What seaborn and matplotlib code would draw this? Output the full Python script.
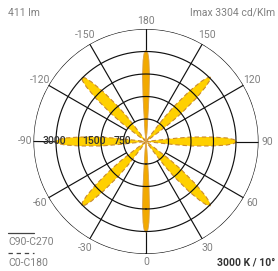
import numpy as np
import pandas as pd
import matplotlib
matplotlib.use("Agg")
import matplotlib.pyplot as plt
from matplotlib.lines import Line2D
import seaborn as sns

# ---------------- data ----------------
# C90-C270 plane (solid, orange): gamma angles (deg) and intensity (cd/klm)
c90_angles = [-180, -178.7, -177.9, -177, -176.2, -175.8, -175.2, -173.6, -171,
              -9, -6.4, -4.8, -4.2, -3.8, -3, -2.1, -1.3, 0, 1.3, 2.1, 3, 3.8, 4.2, 4.8, 6.4, 9,
              171, 173.6, 175.2, 175.8, 176.2, 177, 177.9, 178.7, 180]
c90_values = [3030, 2930, 2700, 2200, 1500, 1000, 600, 300, 0,
              0, 300, 600, 1000, 1500, 2200, 2700, 2930, 3030, 2930, 2700, 2200, 1500, 1000, 600, 300, 0,
              0, 300, 600, 1000, 1500, 2200, 2700, 2930, 3030]

# C0-C180 plane (dashed, yellow)
c0_angles = [-180,
             -145, -143.8, -143.2, -142.7, -141.4, -139.3, -137.5, -136.3, -135,
             -133.7, -132.5, -130.7, -128.6, -127.3, -126.8, -126.2, -125,
             -98, -96.6, -96.4, -96.2, -95.7, -93.9, -92.5, -91.3, -90,
             -88.7, -87.5, -86.1, -84.3, -83.8, -83.6, -83.4, -82,
             -55, -53.8, -53.2, -52.7, -51.4, -49.3, -47.5, -46.3, -45,
             -43.7, -42.5, -40.7, -38.6, -37.3, -36.8, -36.2, -35,
             0,
             35, 36.2, 36.8, 37.3, 38.6, 40.7, 42.5, 43.7, 45,
             46.3, 47.5, 49.3, 51.4, 52.7, 53.2, 53.8, 55,
             82, 83.4, 83.6, 83.8, 84.3, 86.1, 87.5, 88.7, 90,
             91.3, 92.5, 93.9, 95.7, 96.2, 96.4, 96.6, 98,
             125, 126.2, 126.8, 127.3, 128.6, 130.7, 132.5, 133.7, 135,
             136.3, 137.5, 139.3, 141.4, 142.7, 143.2, 143.8, 145,
             180]
c0_values = [0,
             0, 300, 600, 1000, 1500, 2200, 2700, 2930, 3030,
             2930, 2700, 2200, 1500, 1000, 600, 300, 0,
             0, 300, 600, 1000, 1500, 2200, 2700, 2930, 3030,
             2930, 2700, 2200, 1500, 1000, 600, 300, 0,
             0, 300, 600, 1000, 1500, 2200, 2700, 2930, 3030,
             2930, 2700, 2200, 1500, 1000, 600, 300, 0,
             0,
             0, 300, 600, 1000, 1500, 2200, 2700, 2930, 3030,
             2930, 2700, 2200, 1500, 1000, 600, 300, 0,
             0, 300, 600, 1000, 1500, 2200, 2700, 2930, 3030,
             2930, 2700, 2200, 1500, 1000, 600, 300, 0,
             0, 300, 600, 1000, 1500, 2200, 2700, 2930, 3030,
             2930, 2700, 2200, 1500, 1000, 600, 300, 0,
             0]

ring_values = [750, 1500, 2250, 3000, 3750]
radial_labels = ["3000", "1500", "750"]
radial_label_pos = [3050, 1750, 780]
angle_ticks = [0, 30, 60, 90, 120, 150, 180, -150, -120, -90, -60, -30]
angle_labels = ["0", "30", "60", "90", "120", "150", "180", "-150", "-120", "-90", "-60", "-30"]
r_max = 3750

# ---------------- plot ----------------
sns.set_theme(style="white")
plt.rcParams['font.family'] = ['Roboto', 'DejaVu Sans']

fig = plt.figure(figsize=(2.78, 2.71), dpi=100)
W, H = 278, 271
cx, cy, R = 146, 141.5, 112.5
ax = fig.add_axes([(cx - R) / W, (H - cy - R) / H, 2 * R / W, 2 * R / H], projection='polar')
ax.set_theta_zero_location('S')
ax.set_theta_direction(1)
ax.set_ylim(0, r_max)
ax.set_xticks([])
ax.set_yticks([])
ax.grid(False)
ax.spines['polar'].set_visible(False)
ax.patch.set_alpha(0)

df90 = pd.DataFrame({"theta": np.deg2rad(c90_angles), "I": c90_values})
df0 = pd.DataFrame({"theta": np.deg2rad(c0_angles), "I": c0_values})

# spokes (below fills)
for a in range(0, 360, 30):
    t = np.deg2rad(a)
    ax.plot([t, t], [ring_values[0], r_max], color='#111111', lw=0.85, zorder=1)

# fills
ax.fill(df0["theta"], df0["I"], color='#FFD000', zorder=2, lw=0)
sns.lineplot(data=df0, x="theta", y="I", ax=ax, sort=False, estimator=None,
             color='#C98A2E', lw=0.8, linestyle=(0, (4, 2.5)), zorder=3, legend=False)
ax.fill(df90["theta"], df90["I"], color='#F2A900', zorder=4, lw=0)
sns.lineplot(data=df90, x="theta", y="I", ax=ax, sort=False, estimator=None,
             color='#D9A04A', lw=0.6, zorder=5, legend=False)

# rings (above fills)
tt = np.linspace(0, 2 * np.pi, 361)
for rv in ring_values:
    ax.plot(tt, np.full_like(tt, rv), color='#111111', lw=0.85, zorder=6)

ax.set_xlabel("")
ax.set_ylabel("")

# angle labels
for a, lab in zip(angle_ticks, angle_labels):
    t = np.deg2rad(a)
    rr = 4030 if a in (0, 180, 90, -90) else 4080
    ax.text(t, rr, lab, ha='center', va='center', fontsize=7.5, color='#808080',
            clip_on=False, zorder=7)

# radial labels
for lab, rp in zip(radial_labels, radial_label_pos):
    ax.text(np.deg2rad(-90), rp, lab, ha='center', va='center', fontsize=7.5,
            color='#333333', fontweight='medium', clip_on=False, zorder=8)

def fx(x):
    return x / W

def fy(y):
    return 1 - y / H

fig.text(fx(8), fy(13), "411 lm", fontsize=7.5, color='#808080', ha='left', va='center')
fig.text(fx(275), fy(13), "Imax 3304 cd/Klm", fontsize=7.5, color='#808080', ha='right', va='center')
fig.text(fx(275), fy(263), "3000 K / 10°", fontsize=7.5, color='#333333', ha='right', va='center',
         fontweight='bold')

fig.add_artist(Line2D([fx(8), fx(34)], [fy(232.5), fy(232.5)], color='#444444', lw=0.9))
fig.text(fx(8), fy(242), "C90-C270", fontsize=7.5, color='#808080', ha='left', va='center')
fig.add_artist(Line2D([fx(8), fx(34)], [fy(253), fy(253)], color='#444444', lw=0.9,
                      linestyle=(0, (3.5, 3))))
fig.text(fx(8), fy(263), "C0-C180", fontsize=7.5, color='#808080', ha='left', va='center')

fig.savefig("out.png", dpi=100)
